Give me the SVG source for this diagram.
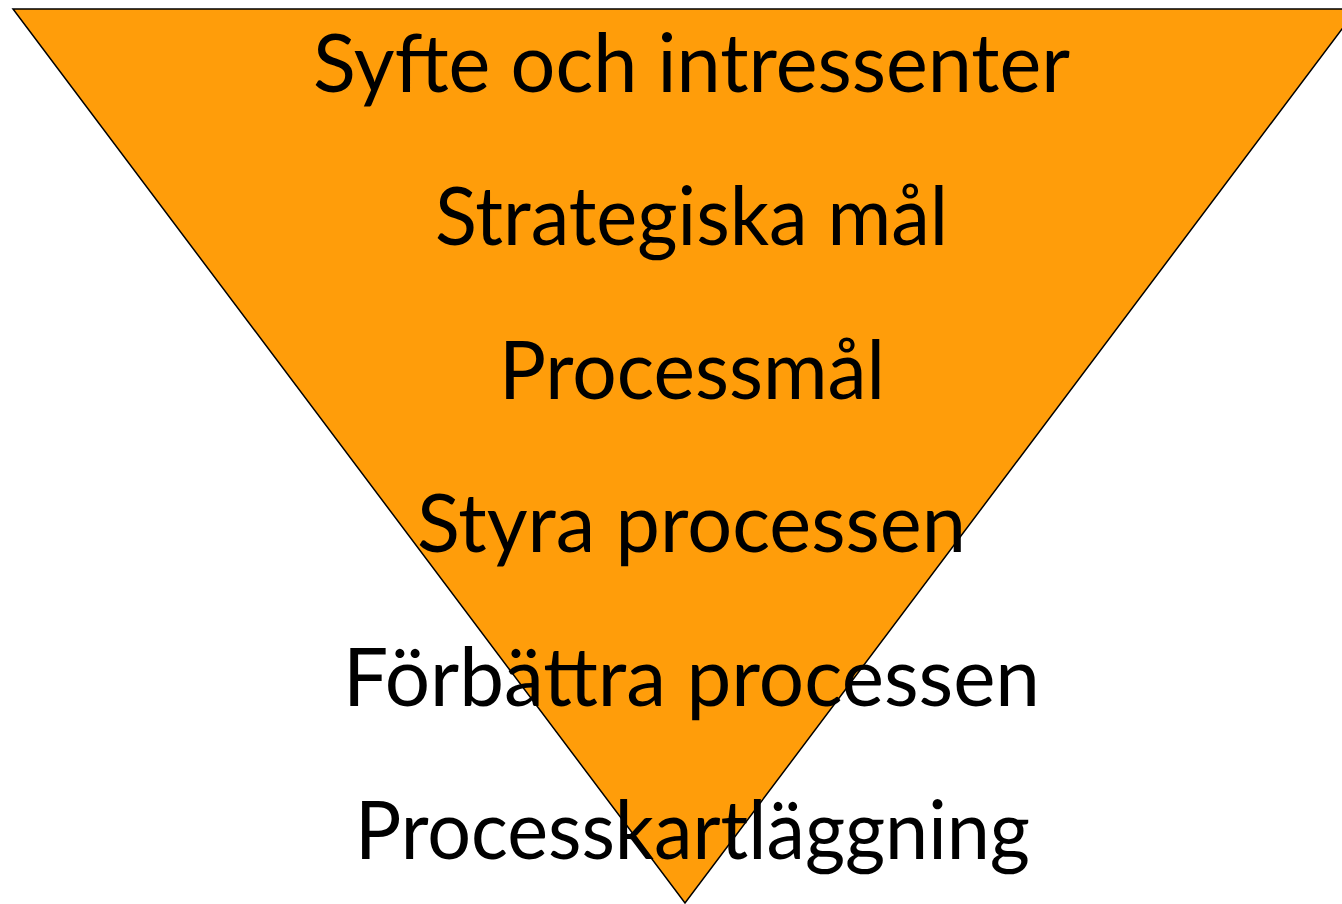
<svg xmlns="http://www.w3.org/2000/svg" width="1342" height="904" viewBox="0 0 1342 904">
<style>
.lbl{font-family:Lato,"Open Sans","Liberation Sans",sans-serif;font-size:82px;fill:#000;text-anchor:middle}
.tri{fill:#FF9D0A;stroke:#000;stroke-width:1.5}
</style>
<rect width="1342" height="904" fill="#fff"/>
<g id="triangle">
<polygon class="tri" points="13,9 1357,9 685,903"/>
</g>
<g id="connectors"></g>
<g id="n1"><text class="lbl" x="691.5" y="92" textLength="757" lengthAdjust="spacingAndGlyphs">Syfte och intressenter</text></g>
<g id="n2"><text class="lbl" x="691.5" y="245" textLength="513" lengthAdjust="spacingAndGlyphs">Strategiska mål</text></g>
<g id="n3"><text class="lbl" x="692" y="399" textLength="386" lengthAdjust="spacingAndGlyphs">Processmål</text></g>
<g id="n4"><text class="lbl" x="691.5" y="552" textLength="549" lengthAdjust="spacingAndGlyphs">Styra processen</text></g>
<g id="n5"><text class="lbl" x="691.5" y="706" textLength="697" lengthAdjust="spacingAndGlyphs">Förbättra processen</text></g>
<g id="n6"><text class="lbl" x="692.5" y="859" textLength="675" lengthAdjust="spacingAndGlyphs">Processkartläggning</text></g>
</svg>
